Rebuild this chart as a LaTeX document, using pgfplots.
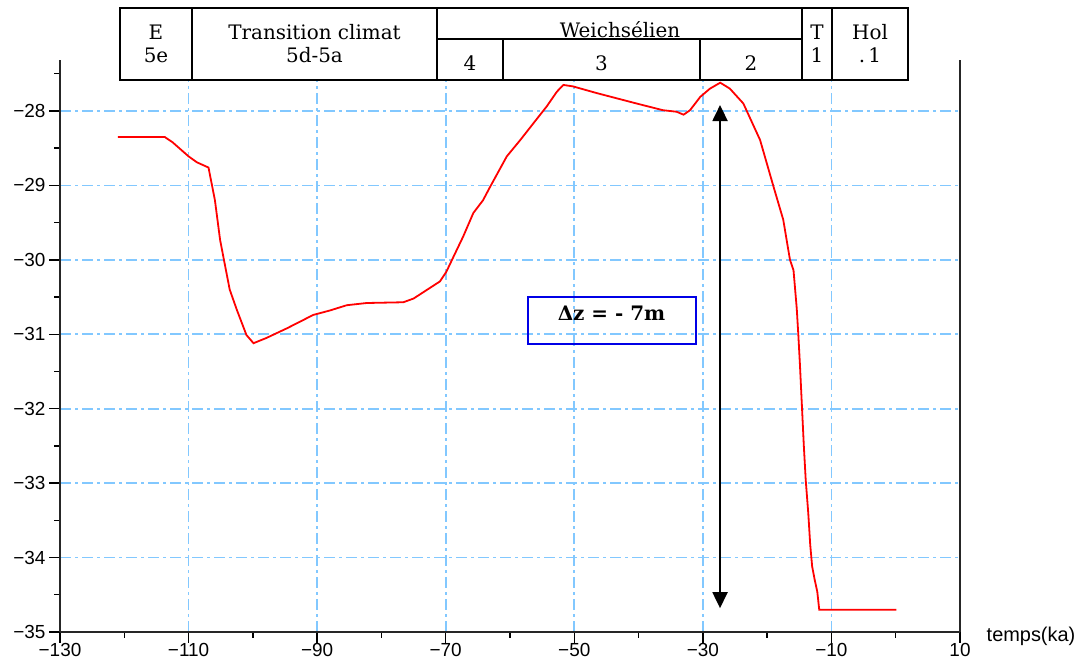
\documentclass[border=0pt]{standalone}
\usepackage{fontspec}
\setmainfont{DejaVu Serif}
\newfontfamily\sansf{Liberation Sans}
\usepackage{pgfplots}
\pgfplotsset{compat=1.18}
\usetikzlibrary{arrows.meta}
\definecolor{gridblue}{RGB}{130,200,255}
\definecolor{curvered}{RGB}{255,0,0}
\definecolor{boxblue}{RGB}{0,0,230}

\pgfplotstableread{
x y
-121.0 -28.35
-113.7 -28.35
-112.5 -28.42
-110.0 -28.61
-108.7 -28.69
-106.9 -28.76
-105.9 -29.20
-105.1 -29.73
-104.5 -30.00
-103.6 -30.40
-102.5 -30.67
-101.0 -31.01
-99.9 -31.12
-97.9 -31.05
-94.7 -30.92
-90.6 -30.74
-88.0 -30.68
-85.4 -30.61
-82.3 -30.58
-76.6 -30.57
-75.0 -30.52
-70.9 -30.29
-69.9 -30.16
-68.8 -29.96
-67.3 -29.69
-65.7 -29.37
-64.2 -29.20
-63.1 -29.02
-60.5 -28.61
-58.4 -28.39
-56.4 -28.17
-54.3 -27.94
-52.7 -27.74
-51.7 -27.65
-50.2 -27.67
-46.5 -27.76
-43.4 -27.83
-40.3 -27.90
-36.2 -27.99
-34.1 -28.01
-33.0 -28.05
-32.0 -27.99
-30.4 -27.81
-28.9 -27.70
-27.3 -27.62
-25.8 -27.70
-23.7 -27.90
-21.1 -28.39
-19.0 -29.02
-17.5 -29.46
-16.45 -30.00
-15.9 -30.14
-15.4 -30.65
-15.15 -31.01
-14.9 -31.41
-14.6 -31.95
-14.3 -32.49
-14.0 -32.96
-13.6 -33.41
-13.3 -33.83
-13.0 -34.12
-12.6 -34.30
-12.2 -34.46
-11.9 -34.70
0.1 -34.70
}\curve

\begin{document}
\begin{tikzpicture}[x=1bp,y=1bp]
\useasboundingbox (0,0) rectangle (1085,668);
\begin{axis}[
  at={(60bp,36bp)}, anchor=south west,
  scale only axis, width=900bp, height=572bp,
  xmin=-130, xmax=10, ymin=-35, ymax=-27.315,
  axis x line*=bottom,
  xtick={-130,-110,...,10},
  xticklabels={−130,−110,−90,−70,−50,−30,−10,10},
  minor xtick={-120,-100,...,0},
  ytick={-35,-34,...,-28},
  yticklabels={−35,−34,−33,−32,−31,−30,−29,−28},
  minor ytick={-34.5,-33.5,...,-27.5},
  ytick pos=left,
  tick align=outside,
  major tick length=11bp, minor tick length=6bp,
  every tick/.style={black, line width=1.4bp},
  axis line style={black!85, line width=1.8bp},
  grid=major,
  major grid style={gridblue, line width=1.8bp, dash pattern=on 11bp off 4bp on 3bp off 4bp},
  tick label style={font=\sansf\fontsize{19}{19}\selectfont},
  xticklabel style={yshift=3bp},
  clip=false,
]
\addplot[curvered, line width=1.8bp] table[x=x,y=y] {\curve};
\draw[black, line width=2bp, {Triangle[width=15bp,length=16bp]}-{Triangle[width=15bp,length=16bp]}]
  (axis cs:-27.33,-27.92) -- (axis cs:-27.33,-34.68);
\end{axis}
% x label
\node[anchor=base, font=\sansf\fontsize{20}{20}\selectfont] at (1031,26.3) {temps(ka)};
% delta box
\draw[boxblue, line width=2bp] (528,323.7) rectangle (696,371.3);
\node[anchor=base, inner sep=0pt, font=\bfseries\fontsize{20}{20}\selectfont] at (611.5,347) {Δz = - 7m};
% table
\fill[white] (120,588) rectangle (908,660);
\begin{scope}[line width=1.8bp, black]
\draw (120,588) rectangle (908,660);
\draw (192,588) -- (192,660);
\draw (437,588) -- (437,660);
\draw (802,588) -- (802,660);
\draw (832,588) -- (832,660);
\draw (437,629) -- (802,629);
\draw (503,588) -- (503,629);
\draw (700,588) -- (700,629);
\end{scope}
\begin{scope}[every node/.style={anchor=base, inner sep=0pt, font=\fontsize{20}{20}\selectfont}]
\node at (156,628.7) {E};
\node at (156,605) {5e};
\node at (314.5,628.7) {Transition climat};
\node at (314.5,605) {5d-5a};
\node at (620,630) {Weichsélien};
\node at (470,597) {4};
\node at (601.5,597) {3};
\node at (751,597) {2};
\node at (817,628.7) {T};
\node at (817,605) {1};
\node at (870,628.7) {Hol};
\node at (870,605) {.\,1};
\end{scope}
\end{tikzpicture}
\end{document}
